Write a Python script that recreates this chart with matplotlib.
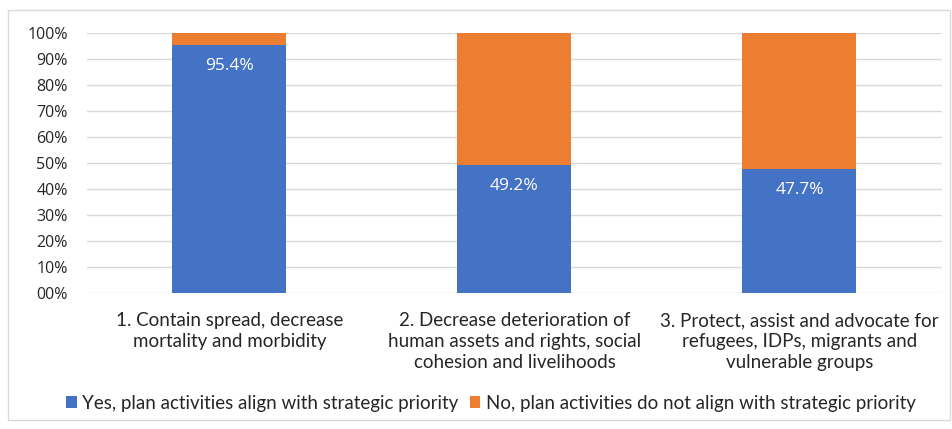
import matplotlib
matplotlib.use("Agg")
import matplotlib.pyplot as plt
from matplotlib.patches import Rectangle
from matplotlib.ticker import FuncFormatter

categories = ["1. Contain spread, decrease\nmortality and morbidity",
              "2. Decrease deterioration of\nhuman assets and rights, social\ncohesion and livelihoods",
              "3. Protect, assist and advocate for\nrefugees, IDPs, migrants and\nvulnerable groups"]
yes_vals = [95.4, 49.2, 47.7]
no_vals = [100 - v for v in yes_vals]
series_names = ["Yes, plan activities align with strategic priority",
                "No, plan activities do not align with strategic priority"]
blue = "#4472C4"
orange = "#ED7D31"

plt.rcParams['font.family'] = ['Lato', 'DejaVu Sans']
wide = ['Open Sans', 'DejaVu Sans']

fig = plt.figure(figsize=(9.53, 4.29), dpi=100)
ax = fig.add_axes([87/953, 1-293/429, 855/953, 260/429])

x = list(range(len(categories)))
ax.bar(x, yes_vals, width=0.40, color=blue, label=series_names[0], zorder=3)
ax.bar(x, no_vals, width=0.40, bottom=yes_vals, color=orange, label=series_names[1], zorder=3)

for xi, v in zip(x, yes_vals):
    ax.text(xi, v - 5.0, f"{v:.1f}%", ha='center', va='top', color='white', fontsize=12.5,
            family=wide, zorder=4)

ax.set_xlim(-0.5, len(categories) - 0.5)
ax.set_ylim(0, 100)
ax.set_yticks(range(0, 101, 10))
ax.yaxis.set_major_formatter(FuncFormatter(lambda v, p: f"{int(v):02d}%"))
ax.grid(axis='y', color='#D9D9D9', linewidth=1, zorder=0)
for s in ax.spines.values():
    s.set_visible(False)
ax.tick_params(axis='both', length=0, colors='#262626')
ax.tick_params(axis='y', pad=14)
for lab in ax.get_yticklabels():
    lab.set_fontfamily(wide)
    lab.set_fontsize(11.5)
ax.set_xticks(x)
ax.set_xticklabels(categories, fontsize=13.5, color='#262626', linespacing=1.28)
ax.tick_params(axis='x', pad=14)

leg = fig.legend(loc='center', bbox_to_anchor=(491/953, 1-403/429), ncol=2, frameon=False,
                 handlelength=0.55, handleheight=0.55, handletextpad=0.3,
                 columnspacing=0.6, prop={'size': 13.5})
for t in leg.get_texts():
    t.set_color('#262626')

fig.patches.append(Rectangle((8/953, 1-420/429), 942/953, 410/429, transform=fig.transFigure,
                             fill=False, edgecolor='#D9D9D9', linewidth=1))

fig.savefig("out.png", dpi=100, facecolor='white')
